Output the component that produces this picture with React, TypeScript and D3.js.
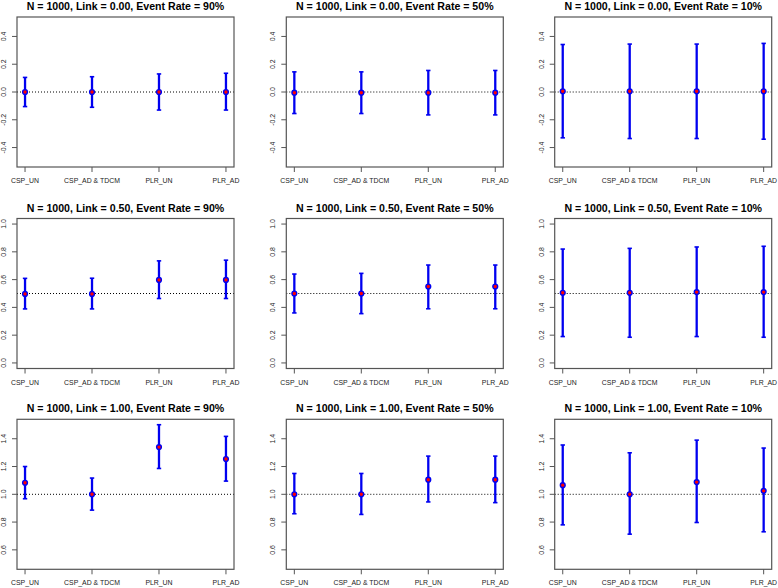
import React from "react";
import * as d3 from "d3";

const categories = ["CSP_UN", "CSP_AD & TDCM", "PLR_UN", "PLR_AD"];
const links = [0, 0.5, 1];
const eventRates = [90, 50, 10];
const yLimits = [[-0.5, 0.5], [0, 1], [0.5, 1.5]];
const yTicks = [[-0.4, -0.2, 0, 0.2, 0.4], [0, 0.2, 0.4, 0.6, 0.8, 1.0], [0.6, 0.8, 1.0, 1.2, 1.4]];

// row: Link = 0.00 ; columns: Event Rate 90%, 50%, 10%
const est0 = [[0, 0, 0, 0], [-0.005, -0.005, -0.005, -0.005], [0.005, 0.005, 0.005, 0.005]];
const lo0 = [[-0.105, -0.11, -0.13, -0.13], [-0.155, -0.155, -0.165, -0.165], [-0.33, -0.335, -0.335, -0.34]];
const hi0 = [[0.105, 0.11, 0.13, 0.135], [0.145, 0.145, 0.155, 0.155], [0.342, 0.345, 0.345, 0.35]];
// row: Link = 0.50
const est5 = [[0.497, 0.497, 0.598, 0.598], [0.5, 0.5, 0.55, 0.55], [0.505, 0.505, 0.51, 0.51]];
const lo5 = [[0.389, 0.389, 0.464, 0.464], [0.36, 0.355, 0.39, 0.39], [0.19, 0.185, 0.19, 0.185]];
const hi5 = [[0.609, 0.61, 0.735, 0.74], [0.64, 0.645, 0.705, 0.705], [0.82, 0.825, 0.835, 0.84]];
// row: Link = 1.00
const est1 = [[1.083, 1.0, 1.34, 1.254], [1.0, 1.0, 1.105, 1.105], [1.066, 1.0, 1.088, 1.025]];
const lo1 = [[0.968, 0.886, 1.186, 1.095], [0.86, 0.855, 0.945, 0.94], [0.78, 0.713, 0.797, 0.73]];
const hi1 = [[1.2, 1.117, 1.501, 1.417], [1.15, 1.15, 1.275, 1.275], [1.355, 1.299, 1.39, 1.333]];

const estRows = [est0, est5, est1];
const loRows = [lo0, lo5, lo1];
const hiRows = [hi0, hi5, hi1];

const panelLefts = [17, 286.3, 554.7];
const panelTops = [17, 218.5, 419.3];
const PW = 217;
const PH = 150;
const FONT = "Liberation Sans, Arial, Helvetica, sans-serif";

function Panel({ r, c }: { r: number; c: number }) {
  const left = panelLefts[c];
  const top = panelTops[r];
  const [y0, y1] = yLimits[r];
  const ext = (y1 - y0) * 0.04;
  const x = d3.scaleLinear().domain([1 - 0.12, 4 + 0.12]).range([left, left + PW]);
  const y = d3.scaleLinear().domain([y0 - ext, y1 + ext]).range([top + PH, top]);
  const est = estRows[r][c];
  const lo = loRows[r][c];
  const hi = hiRows[r][c];
  const ref = links[r];
  const title = `N = 1000, Link = ${d3.format(".2f")(links[r])}, Event Rate = ${eventRates[c]}%`;
  const axisCol = "#555";
  const blue = "#0000f0";
  return (
    <g>
      <text x={left + PW / 2} y={top - 7} textAnchor="middle" fontFamily={FONT} fontWeight="bold" fontSize={10.6} fill="#000">
        {title}
      </text>
      <line x1={left} x2={left + PW} y1={y(ref)} y2={y(ref)} stroke="#000" strokeWidth={1} strokeDasharray="1,2" />
      {categories.map((cat, i) => {
        const cx = x(i + 1);
        return (
          <g key={cat}>
            <line x1={cx} x2={cx} y1={y(lo[i])} y2={y(hi[i])} stroke={blue} strokeWidth={2.3} />
            <line x1={cx - 2.2} x2={cx + 2.2} y1={y(lo[i])} y2={y(lo[i])} stroke={blue} strokeWidth={1.6} />
            <line x1={cx - 2.2} x2={cx + 2.2} y1={y(hi[i])} y2={y(hi[i])} stroke={blue} strokeWidth={1.6} />
            <circle cx={cx} cy={y(est[i])} r={2.4} fill="#ff0000" stroke={blue} strokeWidth={1.4} />
            <line x1={cx} x2={cx} y1={top + PH} y2={top + PH + 5} stroke={axisCol} strokeWidth={1} />
            <text x={cx} y={top + PH + 16} textAnchor="middle" fontFamily={FONT} fontSize={6.9} fill="#222">
              {cat}
            </text>
          </g>
        );
      })}
      {yTicks[r].map((t) => (
        <g key={t}>
          <line x1={left - 5} x2={left} y1={y(t)} y2={y(t)} stroke={axisCol} strokeWidth={1} />
          <text
            transform={`translate(${left - 11},${y(t)}) rotate(-90)`}
            textAnchor="middle"
            fontFamily={FONT}
            fontSize={6.9}
            fill="#222"
          >
            {d3.format(".1f")(t).replace("−", "-")}
          </text>
        </g>
      ))}
      <rect x={left} y={top} width={PW} height={PH} fill="none" stroke={axisCol} strokeWidth={1.2} />
    </g>
  );
}

export default function App() {
  return (
    <svg width={778} height={588} style={{ position: "absolute", left: 0, top: 0, background: "#fff" }}>
      <rect width={778} height={588} fill="#fff" />
      {links.map((_, r) => eventRates.map((_, c) => <Panel key={`${r}-${c}`} r={r} c={c} />))}
    </svg>
  );
}
